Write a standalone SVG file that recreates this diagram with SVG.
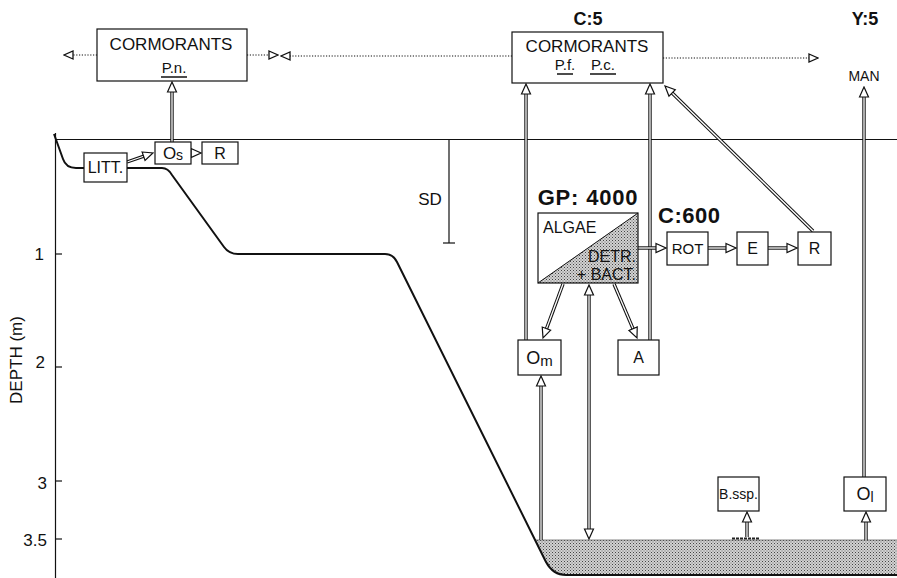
<svg xmlns="http://www.w3.org/2000/svg" width="897" height="578" viewBox="0 0 897 578">
<style>
.t{font-family:"Liberation Sans",Arial,Helvetica,sans-serif;fill:#111}
.b{font-weight:bold}
.m{text-anchor:middle}
.e{text-anchor:end}
.box{fill:#fff;stroke:#111;stroke-width:1.2}
.outer{stroke:#111;stroke-width:3.4;fill:none}
.core{stroke:#fff;stroke-width:1.3;fill:none;marker-end:url(#ah)}
.dbl{marker-start:url(#ah)}
.dot{stroke:#111;stroke-width:1.1;stroke-dasharray:1.2 1.6;fill:none;marker-end:url(#oh)}
.prof{stroke:#111;stroke-width:2;fill:none;stroke-linejoin:round}
.thin{stroke:#111;stroke-width:1.2;fill:none}
.ul{stroke:#111;stroke-width:1.5}
</style>
<defs>
<marker id="ah" viewBox="-1 -1 12 12" refX="10" refY="5" markerWidth="12" markerHeight="12" markerUnits="userSpaceOnUse" orient="auto-start-reverse">
<path d="M0,0.5 L10,5 L0,9.5 Z" fill="#fff" stroke="#111" stroke-width="1.2"/>
</marker>
<marker id="oh" viewBox="-1 -1 12 12" refX="10" refY="5" markerWidth="12" markerHeight="12" markerUnits="userSpaceOnUse" orient="auto">
<path d="M1,1 L10,5 L1,9 Z" fill="#fff" stroke="#111" stroke-width="1.3"/>
</marker>
<pattern id="stip" width="3" height="3" patternUnits="userSpaceOnUse">
<rect width="3" height="3" fill="#d2d2d2"/>
<rect x="0" y="0" width="1" height="1" fill="#444"/>
<rect x="1.5" y="1.5" width="1" height="1" fill="#666"/>
</pattern>
</defs>
<rect width="897" height="578" fill="#fff"/>

<g id="terrain">
<path d="M535,540 L897,540 L897,575 L566,575 Q553,575 546,562 Z" fill="url(#stip)" stroke="none"/>
<line x1="535" y1="540" x2="897" y2="540" stroke="#666" stroke-width="0.8"/>
<line x1="732" y1="538.5" x2="760" y2="538.5" stroke="#222" stroke-width="2" stroke-dasharray="3 1"/>
<line x1="55" y1="139.5" x2="897" y2="139.5" class="thin"/>
<path class="prof" d="M54,134 L63,159 Q66,168 76,168 L84,168 M127,168 L162,168 Q168,168 172,175 L224,247 Q229,254 238,254 L385,254 Q393,254 397,262 L546,562 Q553,575 566,575 L897,575"/>
</g>

<g id="axis">
<line x1="55.5" y1="133" x2="55.5" y2="578" class="thin"/>
<line x1="55.5" y1="254" x2="62" y2="254" class="thin"/>
<line x1="55.5" y1="367" x2="62" y2="367" class="thin"/>
<line x1="55.5" y1="481" x2="62" y2="481" class="thin"/>
<line x1="55.5" y1="539" x2="62" y2="539" class="thin"/>
<text class="t e" x="44" y="260" font-size="17">1</text>
<text class="t e" x="45" y="368" font-size="17">2</text>
<text class="t e" x="47" y="489" font-size="17">3</text>
<text class="t e" x="47" y="546" font-size="17">3.5</text>
<text class="t m" font-size="17" transform="translate(22,360) rotate(-90)">DEPTH (m)</text>
</g>

<g id="sd">
<line x1="449" y1="140" x2="449" y2="243" class="thin"/>
<line x1="443" y1="243" x2="455" y2="243" class="thin"/>
<text class="t m" x="430" y="205" font-size="17">SD</text>
</g>

<g id="connectors">
<g id="dotted">
<path class="dot" d="M97,55 L64,55"/>
<path class="dot" d="M247,55 L278,55"/>
<path class="dot" d="M512,56 L281,56"/>
<path class="dot" d="M663,58 L818,58"/>
</g>
<g id="a-litt-os"><path class="outer" d="M127,162 L148.3,154.6"/><path class="core" d="M127,162 L153,153"/></g>
<g id="a-os-r"><path class="outer" d="M191,153 L195,153"/><path class="core" d="M191,153 L201,153"/></g>
<g id="a-os-corm"><path class="outer" d="M172,142 L172,88"/><path class="core" d="M172,142 L172,82"/></g>
<g id="a-om-corm"><path class="outer" d="M526,340 L526,89"/><path class="core" d="M526,340 L526,84"/></g>
<g id="a-a-corm"><path class="outer" d="M650,340 L650,89"/><path class="core" d="M650,340 L650,84"/></g>
<g id="a-r-corm"><path class="outer" d="M813,231 L668.6,89.5"/><path class="core" d="M813,231 L665,86"/></g>
<g id="a-ol-man"><path class="outer" d="M864,477 L864,92"/><path class="core" d="M864,477 L864,87"/></g>
<g id="a-algae-rot"><path class="outer" d="M638,248 L661,248"/><path class="core" d="M638,248 L666,248"/></g>
<g id="a-rot-e"><path class="outer" d="M708,248 L731,248"/><path class="core" d="M708,248 L736,248"/></g>
<g id="a-e-r"><path class="outer" d="M768,248 L792,248"/><path class="core" d="M768,248 L797,248"/></g>
<g id="a-algae-om"><path class="outer" d="M563,284 L544.8,333.3"/><path class="core" d="M563,284 L543,338"/></g>
<g id="a-algae-a"><path class="outer" d="M614,284 L635,333.4"/><path class="core" d="M614,284 L637,338"/></g>
<g id="a-sed-algae"><path class="outer" d="M589,291 L589,533"/><path class="core dbl" d="M589,285 L589,539"/></g>
<g id="a-sed-om"><path class="outer" d="M541,540 L541,381"/><path class="core" d="M541,540 L541,376"/></g>
<g id="a-sed-bssp"><path class="outer" d="M747,537 L747,517"/><path class="core" d="M747,537 L747,512"/></g>
<g id="a-sed-ol"><path class="outer" d="M866,540 L866,517"/><path class="core" d="M866,540 L866,512"/></g>
</g>

<g id="cormorants-pn">
<rect class="box" x="97" y="29" width="150" height="52"/>
<text class="t m" x="171" y="50" font-size="17">CORMORANTS</text>
<text class="t m" x="174" y="73" font-size="15">P.n.</text>
<line class="ul" x1="161" y1="77" x2="187" y2="77"/>
</g>

<g id="cormorants-pf-pc">
<text class="t m b" x="588" y="25" font-size="18">C:5</text>
<rect class="box" x="512" y="32" width="151" height="51"/>
<text class="t m" x="587" y="52" font-size="17">CORMORANTS</text>
<text class="t m" x="565" y="70" font-size="15">P.f.</text>
<line class="ul" x1="557" y1="74" x2="573" y2="74"/>
<text class="t m" x="603" y="70" font-size="15">P.c.</text>
<line class="ul" x1="590" y1="74" x2="616" y2="74"/>
</g>

<g id="man">
<text class="t m b" x="865" y="25" font-size="18">Y:5</text>
<text class="t m" x="864" y="81" font-size="14">MAN</text>
</g>

<g id="litt">
<rect class="box" x="84" y="153" width="43" height="29"/>
<text class="t m" x="105.5" y="173" font-size="16">LITT.</text>
</g>
<g id="os">
<rect class="box" x="155" y="142" width="36" height="22"/>
<text class="t m" x="173" y="159" font-size="17">O<tspan font-size="14" dy="1">s</tspan></text>
</g>
<g id="r-left">
<rect class="box" x="202" y="142" width="36" height="22"/>
<text class="t m" x="220" y="159" font-size="16">R</text>
</g>

<g id="algae">
<text class="t m b" x="588" y="205" font-size="22" letter-spacing="0.8">GP: 4000</text>
<polygon points="538,283 638,213 638,283" fill="url(#stip)"/>
<rect x="538" y="213" width="100" height="70" fill="none" stroke="#111" stroke-width="1.2"/>
<line x1="538" y1="283" x2="638" y2="213" stroke="#111" stroke-width="1"/>
<text class="t" x="543" y="233" font-size="16">ALGAE</text>
<text class="t e" x="636" y="262" font-size="16">DETR.</text>
<text class="t e" x="636" y="280" font-size="16">+ BACT.</text>
</g>

<g id="rot">
<text class="t b" x="658" y="223" font-size="22" letter-spacing="0.5">C:600</text>
<rect class="box" x="667" y="232" width="41" height="33"/>
<text class="t m" x="687.5" y="254" font-size="15">ROT</text>
</g>
<g id="e">
<rect class="box" x="737" y="232" width="31" height="33"/>
<text class="t m" x="752.5" y="254" font-size="16">E</text>
</g>
<g id="r-right">
<rect class="box" x="798" y="232" width="33" height="33"/>
<text class="t m" x="814.5" y="254" font-size="16">R</text>
</g>

<g id="om">
<rect class="box" x="518" y="340" width="43" height="35"/>
<text class="t m" x="539.5" y="364" font-size="18">O<tspan font-size="15" dy="2">m</tspan></text>
</g>
<g id="a">
<rect class="box" x="618" y="340" width="41" height="35"/>
<text class="t m" x="638.5" y="363" font-size="16">A</text>
</g>
<g id="bssp">
<rect class="box" x="718" y="477" width="41" height="34"/>
<text class="t m" x="738.5" y="499" font-size="14">B.ssp.</text>
</g>
<g id="ol">
<rect class="box" x="844" y="477" width="42" height="34"/>
<text class="t m" x="865" y="500" font-size="18">O<tspan font-size="14" dy="2">l</tspan></text>
</g>
</svg>
